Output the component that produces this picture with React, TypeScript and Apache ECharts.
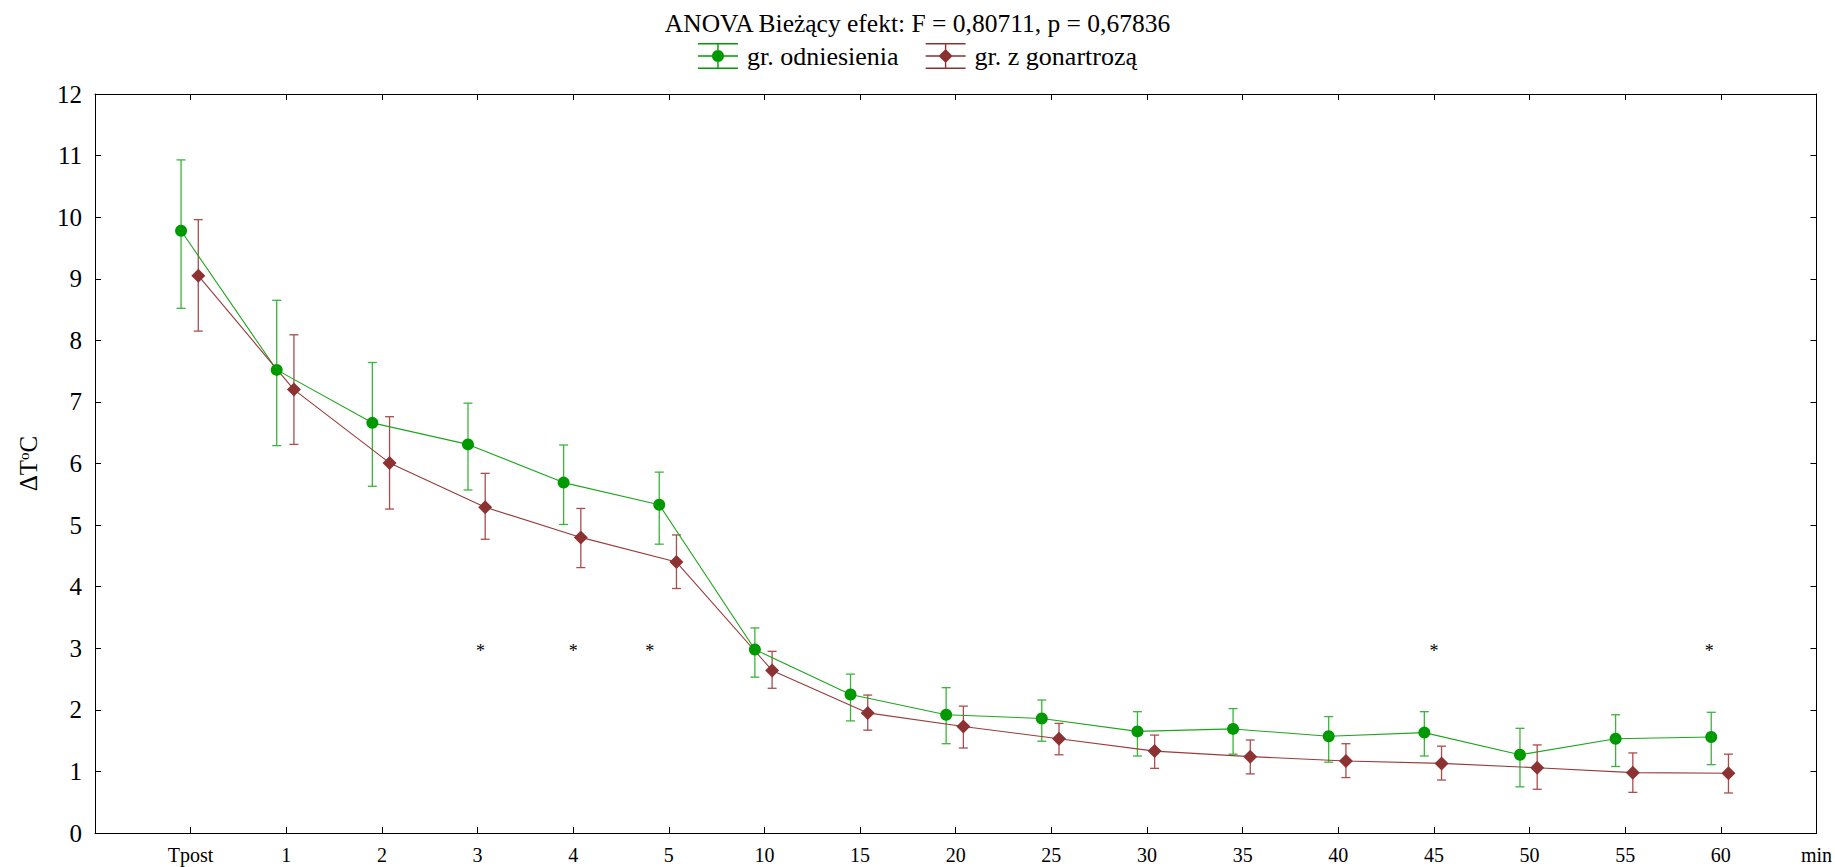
import React, { useEffect, useRef } from "react";
import * as echarts from "echarts";

const categories = ["Tpost", "1", "2", "3", "4", "5", "10", "15", "20", "25", "30", "35", "40", "45", "50", "55", "60"];
const yTicks = [0, 1, 2, 3, 4, 5, 6, 7, 8, 9, 10, 11, 12];

const refMean = [9.78, 7.52, 6.66, 6.31, 5.69, 5.33, 2.98, 2.25, 1.92, 1.86, 1.65, 1.69, 1.57, 1.63, 1.27, 1.53, 1.56];
const refLow = [8.52, 6.29, 5.63, 5.57, 5.01, 4.69, 2.53, 1.82, 1.45, 1.49, 1.25, 1.28, 1.15, 1.25, 0.75, 1.08, 1.11];
const refHigh = [10.93, 8.65, 7.64, 6.98, 6.3, 5.86, 3.33, 2.58, 2.36, 2.16, 1.97, 2.02, 1.89, 1.97, 1.7, 1.92, 1.96];

const gonMean = [9.05, 7.2, 6.01, 5.29, 4.8, 4.4, 2.64, 1.95, 1.73, 1.53, 1.33, 1.24, 1.17, 1.13, 1.06, 0.98, 0.97];
const gonLow = [8.15, 6.31, 5.26, 4.77, 4.31, 3.97, 2.35, 1.67, 1.38, 1.27, 1.05, 0.96, 0.9, 0.86, 0.71, 0.66, 0.65];
const gonHigh = [9.96, 8.09, 6.76, 5.84, 5.27, 4.84, 2.95, 2.24, 2.06, 1.78, 1.59, 1.51, 1.45, 1.41, 1.43, 1.3, 1.28];

// significance markers: [category position, value]
const starPositions = [3.03, 4, 4.8, 13, 15.88];
const starLevel = 3;

const FONT = "Liberation Serif";
const GREEN_MARK = "#009a00";
const GREEN_LINE = "#1ea51e";
const GREEN_ERR = "#3cb43c";
const RED_MARK = "#8c3232";
const RED_LINE = "#963c3c";
const RED_ERR = "#a84e4e";

const OFF_REF = -0.1;
const OFF_GON = 0.08;

function errorSeries(name: string, low: number[], high: number[], off: number, color: string) {
  return {
    type: "custom",
    name,
    silent: true,
    z: 2,
    data: low.map((l, i) => [i + off, l, high[i]]),
    encode: { x: 0, y: [1, 2] },
    renderItem: (params: any, api: any) => {
      const x = api.value(0);
      const pLo = api.coord([x, api.value(1)]);
      const pHi = api.coord([x, api.value(2)]);
      const hw = 4.5;
      const style = { stroke: color, lineWidth: 1.3 };
      return {
        type: "group",
        children: [
          { type: "line", shape: { x1: pHi[0], y1: pHi[1], x2: pLo[0], y2: pLo[1] }, style },
          { type: "line", shape: { x1: pHi[0] - hw, y1: pHi[1], x2: pHi[0] + hw, y2: pHi[1] }, style },
          { type: "line", shape: { x1: pLo[0] - hw, y1: pLo[1], x2: pLo[0] + hw, y2: pLo[1] }, style },
        ],
      };
    },
  };
}

const iconCircle =
  "path://M0,0h40v1.4h-40z M0,12.3h40v1.4h-40z M0,24.6h40v1.4h-40z M19.3,0h1.4v26h-1.4z M20,7a6,6 0 1,1 -0.001,0z";
const iconDiamond =
  "path://M0,0h40v1.4h-40z M0,12.3h40v1.4h-40z M0,24.6h40v1.4h-40z M19.3,0h1.4v26h-1.4z M20,6L27,13L20,20L13,13z";

export default function App() {
  const ref = useRef<HTMLDivElement>(null);
  useEffect(() => {
    if (!ref.current) return;
    const chart = echarts.init(ref.current, null, { renderer: "svg" });
    const xLabel = (v: number) => {
      if (v === 17) return "min";
      if (v >= 0 && v < categories.length) return categories[v];
      return "";
    };
    const axisLine = { show: true, onZero: false, lineStyle: { color: "#000", width: 1 } };
    const axisTick = { show: true, inside: true, length: 6, lineStyle: { color: "#000", width: 1 } };
    chart.setOption({
      animation: false,
      backgroundColor: "#fff",
      textStyle: { fontFamily: FONT },
      title: {
        text: "ANOVA Bieżący efekt: F = 0,80711, p = 0,67836",
        left: "center",
        top: 5,
        textStyle: { fontFamily: FONT, fontSize: 25.5, fontWeight: "normal", color: "#000" },
      },
      legend: {
        top: 38,
        left: "center",
        itemWidth: 40,
        itemHeight: 26,
        itemGap: 27,
        itemStyle: { borderWidth: 0 },
        textStyle: { fontFamily: FONT, fontSize: 26, color: "#000", padding: [0, 0, 0, 4] },
        data: [
          { name: "gr. odniesienia", icon: iconCircle, itemStyle: { color: GREEN_MARK } },
          { name: "gr. z gonartrozą", icon: iconDiamond, itemStyle: { color: RED_MARK } },
        ],
      },
      grid: { left: 95, right: 18, top: 94, bottom: 34, containLabel: false },
      xAxis: [
        {
          type: "value",
          min: -1,
          max: 17,
          interval: 1,
          position: "bottom",
          axisLine,
          axisTick,
          splitLine: { show: false },
          axisLabel: {
            formatter: xLabel,
            fontFamily: FONT,
            fontSize: 20,
            color: "#000",
            margin: 12,
            showMinLabel: true,
            showMaxLabel: true,
          },
        },
        {
          type: "value",
          min: -1,
          max: 17,
          interval: 1,
          position: "top",
          axisLine,
          axisTick,
          splitLine: { show: false },
          axisLabel: { show: false },
        },
      ],
      yAxis: [
        {
          type: "value",
          min: yTicks[0],
          max: yTicks[yTicks.length - 1],
          interval: 1,
          position: "left",
          axisLine,
          axisTick,
          splitLine: { show: false },
          axisLabel: { fontFamily: FONT, fontSize: 25, color: "#000", margin: 13 },
          name: "{a|ΔT}{b|o}{a|C}",
          nameLocation: "middle",
          nameRotate: 90,
          nameGap: 54,
          nameTextStyle: {
            fontFamily: FONT,
            color: "#000",
            rich: {
              a: { fontFamily: FONT, fontSize: 25, color: "#000" },
              b: { fontFamily: FONT, fontSize: 15, color: "#000", verticalAlign: "top", padding: [0, 0, 9, 0] },
            },
          },
        },
        {
          type: "value",
          min: yTicks[0],
          max: yTicks[yTicks.length - 1],
          interval: 1,
          position: "right",
          axisLine,
          axisTick,
          splitLine: { show: false },
          axisLabel: { show: false },
        },
      ],
      series: [
        errorSeries("err-ref", refLow, refHigh, OFF_REF, GREEN_ERR),
        errorSeries("err-gon", gonLow, gonHigh, OFF_GON, RED_ERR),
        {
          type: "line",
          name: "gr. odniesienia",
          z: 3,
          data: refMean.map((v, i) => [i + OFF_REF, v]),
          symbol: "circle",
          symbolSize: 12,
          lineStyle: { color: GREEN_LINE, width: 1.1 },
          itemStyle: { color: GREEN_MARK, borderWidth: 0 },
        },
        {
          type: "line",
          name: "gr. z gonartrozą",
          z: 3,
          data: gonMean.map((v, i) => [i + OFF_GON, v]),
          symbol: "diamond",
          symbolSize: 14,
          lineStyle: { color: RED_LINE, width: 1.1 },
          itemStyle: { color: RED_MARK, borderWidth: 0 },
        },
        {
          type: "custom",
          name: "sig",
          silent: true,
          z: 4,
          data: starPositions.map((p) => [p, starLevel]),
          encode: { x: 0, y: 1 },
          renderItem: (params: any, api: any) => {
            const p = api.coord([api.value(0), api.value(1)]);
            return {
              type: "text",
              x: p[0],
              y: p[1] + 3,
              style: {
                text: "*",
                fontFamily: FONT,
                fontSize: 18,
                fill: "#000",
                align: "center",
                verticalAlign: "middle",
              },
            };
          },
        },
      ],
    });
    return () => chart.dispose();
  }, []);
  return (
    <div
      ref={ref}
      style={{ position: "fixed", left: 0, top: 0, width: 1835, height: 867 }}
    />
  );
}
